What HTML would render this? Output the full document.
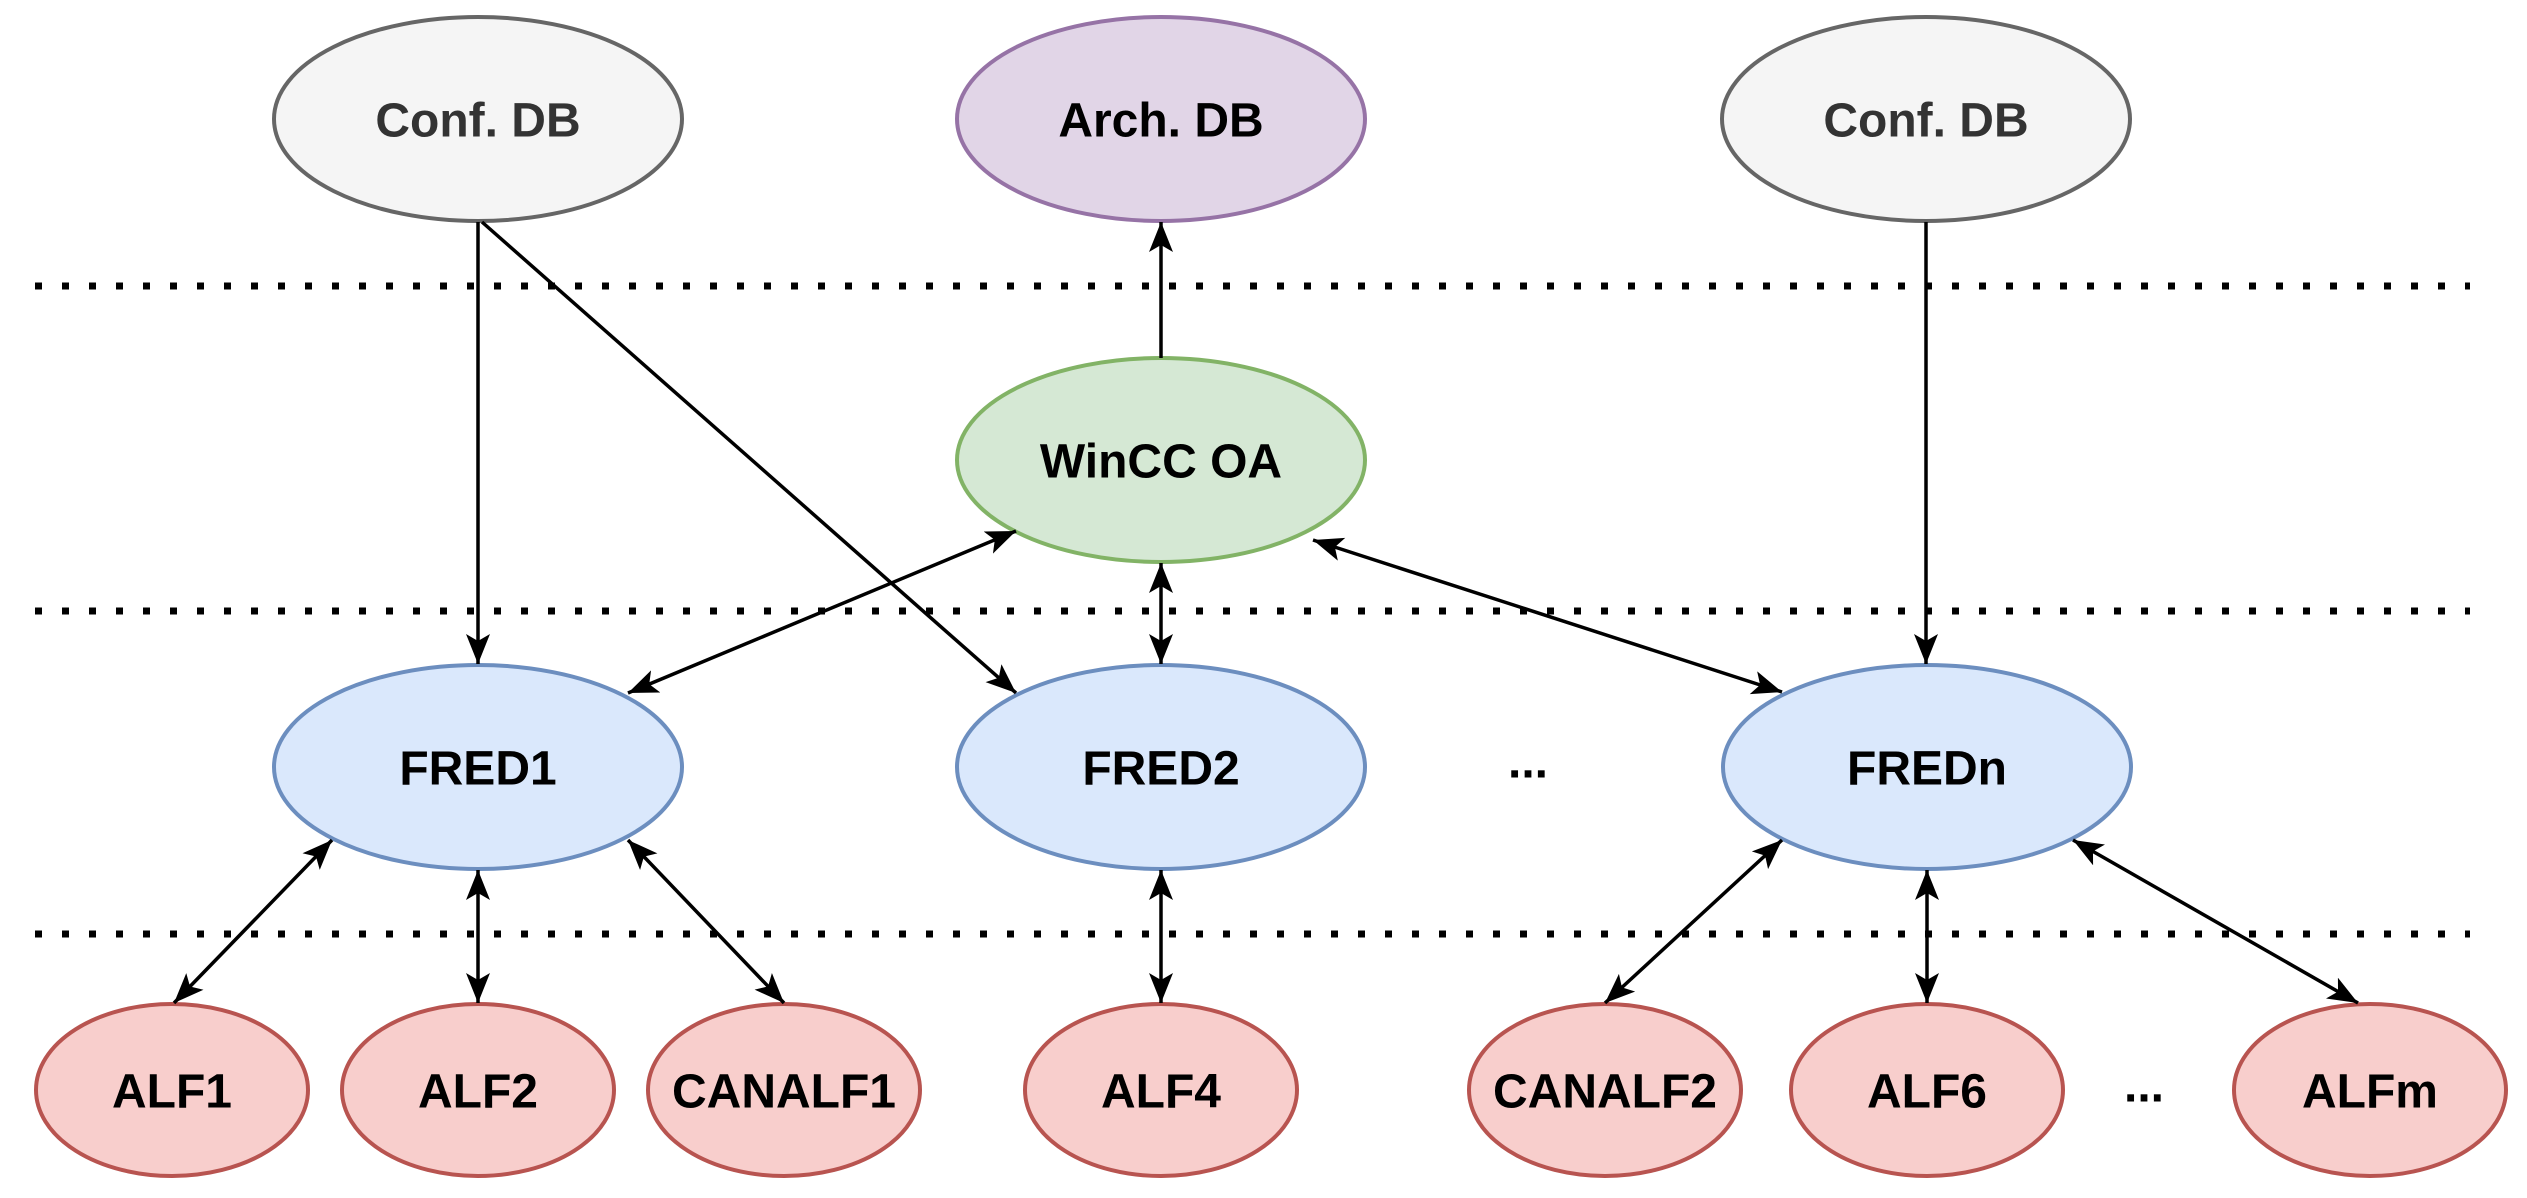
<!DOCTYPE html>
<html><head><meta charset="utf-8"><style>
html,body{margin:0;padding:0;background:#fff;}
svg{display:block;}
text{font-family:"Liberation Sans",Arial,sans-serif;font-weight:bold;font-size:48px;text-anchor:middle;dominant-baseline:central;}
</style></head><body>
<svg width="2527" height="1198" viewBox="0 0 2527 1198" xmlns="http://www.w3.org/2000/svg">
<defs>
<marker id="a" markerUnits="userSpaceOnUse" markerWidth="40" markerHeight="40" refX="30" refY="12" orient="auto-start-reverse" viewBox="0 0 40 40">
<path d="M0,0 L30,12 L0,24 L7,12 z" fill="#000"/>
</marker>
</defs>
<g stroke="#000" stroke-width="7" stroke-dasharray="7 20">
<line x1="35" y1="286" x2="2470" y2="286"/>
<line x1="35" y1="611" x2="2470" y2="611"/>
<line x1="35" y1="934" x2="2470" y2="934"/>
</g>
<g stroke-width="4">
<ellipse cx="478" cy="119" rx="204" ry="102" fill="#f5f5f5" stroke="#666"/>
<ellipse cx="1161" cy="119" rx="204" ry="102" fill="#e1d5e7" stroke="#9673a6"/>
<ellipse cx="1926" cy="119" rx="204" ry="102" fill="#f5f5f5" stroke="#666"/>
<ellipse cx="1161" cy="460" rx="204" ry="102" fill="#d5e8d4" stroke="#82b366"/>
<ellipse cx="478" cy="767" rx="204" ry="102" fill="#dae8fc" stroke="#6c8ebf"/>
<ellipse cx="1161" cy="767" rx="204" ry="102" fill="#dae8fc" stroke="#6c8ebf"/>
<ellipse cx="1927" cy="767" rx="204" ry="102" fill="#dae8fc" stroke="#6c8ebf"/>
<ellipse cx="172" cy="1090" rx="136" ry="86" fill="#f8cecc" stroke="#b85450"/>
<ellipse cx="478" cy="1090" rx="136" ry="86" fill="#f8cecc" stroke="#b85450"/>
<ellipse cx="784" cy="1090" rx="136" ry="86" fill="#f8cecc" stroke="#b85450"/>
<ellipse cx="1161" cy="1090" rx="136" ry="86" fill="#f8cecc" stroke="#b85450"/>
<ellipse cx="1605" cy="1090" rx="136" ry="86" fill="#f8cecc" stroke="#b85450"/>
<ellipse cx="1927" cy="1090" rx="136" ry="86" fill="#f8cecc" stroke="#b85450"/>
<ellipse cx="2370" cy="1090" rx="136" ry="86" fill="#f8cecc" stroke="#b85450"/>
</g>
<g stroke="#000" stroke-width="3.5" fill="none">
<line x1="478" y1="222" x2="478" y2="664" marker-end="url(#a)"/>
<line x1="482" y1="222" x2="1016" y2="693" marker-end="url(#a)"/>
<line x1="1161" y1="358" x2="1161" y2="222" marker-end="url(#a)"/>
<line x1="1926" y1="222" x2="1926" y2="664" marker-end="url(#a)"/>
<line x1="1016" y1="531" x2="628" y2="693" marker-start="url(#a)" marker-end="url(#a)"/>
<line x1="1161" y1="563" x2="1161" y2="664" marker-start="url(#a)" marker-end="url(#a)"/>
<line x1="1313" y1="540" x2="1782" y2="692" marker-start="url(#a)" marker-end="url(#a)"/>
<line x1="332" y1="840" x2="174" y2="1003" marker-start="url(#a)" marker-end="url(#a)"/>
<line x1="478" y1="870" x2="478" y2="1003" marker-start="url(#a)" marker-end="url(#a)"/>
<line x1="628" y1="840" x2="784" y2="1003" marker-start="url(#a)" marker-end="url(#a)"/>
<line x1="1161" y1="870" x2="1161" y2="1003" marker-start="url(#a)" marker-end="url(#a)"/>
<line x1="1782" y1="840" x2="1605" y2="1003" marker-start="url(#a)" marker-end="url(#a)"/>
<line x1="1927" y1="870" x2="1927" y2="1003" marker-start="url(#a)" marker-end="url(#a)"/>
<line x1="2073" y1="840" x2="2358" y2="1003" marker-start="url(#a)" marker-end="url(#a)"/>
</g>
<text x="478" y="121" fill="#333">Conf. DB</text>
<text x="1161" y="121">Arch. DB</text>
<text x="1926" y="121" fill="#333">Conf. DB</text>
<text x="1161" y="462">WinCC OA</text>
<text x="478" y="769">FRED1</text>
<text x="1161" y="769">FRED2</text>
<text x="1927" y="769">FREDn</text>
<text x="172" y="1092">ALF1</text>
<text x="478" y="1092">ALF2</text>
<text x="784" y="1092">CANALF1</text>
<text x="1161" y="1092">ALF4</text>
<text x="1605" y="1092">CANALF2</text>
<text x="1927" y="1092">ALF6</text>
<text x="2370" y="1092">ALFm</text>
<text x="1528" y="762">...</text>
<text x="2144" y="1086">...</text>
</svg>
</body></html>
